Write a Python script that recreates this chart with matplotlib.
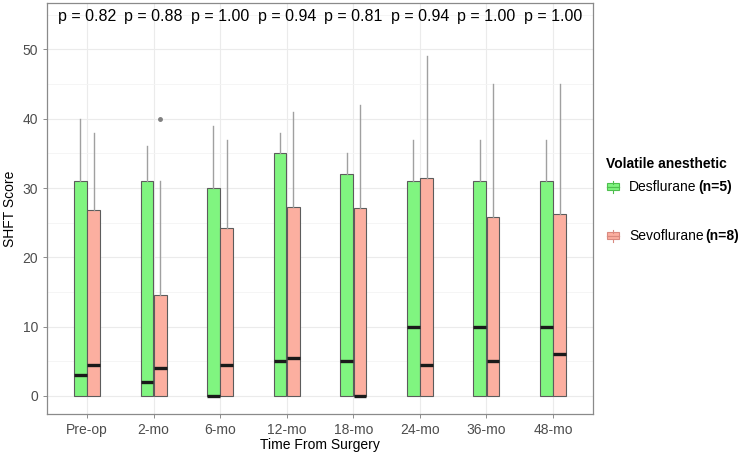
import numpy as np
import matplotlib.pyplot as plt
from matplotlib.patches import Rectangle
from matplotlib.lines import Line2D

plt.rcParams['font.family'] = ['Liberation Sans', 'DejaVu Sans']

categories = ['Pre-op', '2-mo', '6-mo', '12-mo', '18-mo', '24-mo', '36-mo', '48-mo']
p_values = ['0.82', '0.88', '1.00', '0.94', '0.81', '0.94', '1.00', '1.00']

# Desflurane (n=5)
des_q1 = [0, 0, 0, 0, 0, 0, 0, 0]
des_med = [3, 2, 0, 5, 5, 10, 10, 10]
des_q3 = [31, 31, 30, 35, 32, 31, 31, 31]
des_max = [40, 36, 39, 38, 35, 37, 37, 37]
des_out = [[], [], [], [], [], [], [], []]

# Sevoflurane (n=8)
sevo_q1 = [0, 0, 0, 0, 0, 0, 0, 0]
sevo_med = [4.5, 4, 4.5, 5.5, 0, 4.5, 5, 6]
sevo_q3 = [26.8, 14.5, 24.2, 27.3, 27.1, 31.5, 25.8, 26.2]
sevo_max = [38, 31, 37, 41, 42, 49, 45, 45]
sevo_out = [[], [40], [], [], [], [], [], []]

green = '#80F580'
salmon = '#FCAFA0'
edge = '#5c5c5c'
whisk = '#a0a0a0'

fig = plt.figure(figsize=(7.5, 4.61), dpi=100)
ax = fig.add_axes([47 / 750, 1 - 414 / 461, 546 / 750, 411 / 461])


def make_stats(q1, med, q3, hi, out):
    return [dict(q1=a, med=b, q3=c, whislo=a, whishi=d, fliers=e)
            for a, b, c, d, e in zip(q1, med, q3, hi, out)]


x = np.arange(1, len(categories) + 1)
for stats, offs, col in [(make_stats(des_q1, des_med, des_q3, des_max, des_out), -0.1, green),
                         (make_stats(sevo_q1, sevo_med, sevo_q3, sevo_max, sevo_out), 0.1, salmon)]:
    ax.bxp(stats, positions=x + offs, widths=0.19, patch_artist=True, showcaps=False,
           boxprops=dict(facecolor=col, edgecolor=edge, linewidth=0.8),
           medianprops=dict(color='#1a1a1a', linewidth=2.4, solid_capstyle='butt'),
           whiskerprops=dict(color=whisk, linewidth=1.0),
           flierprops=dict(marker='o', markersize=2.5, markerfacecolor='#808080',
                           markeredgecolor='#808080'),
           manage_ticks=False, zorder=3)

for xi, p in zip(x, p_values):
    ax.text(xi, 54.8, f'p = {p}', ha='center', va='center', fontsize=11.5, color='black')

ax.set_xlim(0.4, 8.6)
ax.set_ylim(-2.6, 56.7)
ax.set_xticks(x)
ax.set_xticklabels(categories)
ax.set_yticks(np.arange(0, 51, 10))
ax.set_yticks(np.arange(5, 56, 10), minor=True)
ax.tick_params(axis='both', which='major', labelsize=10, labelcolor='#4d4d4d',
               color='#7a7a7a', length=3, width=0.6)
ax.tick_params(axis='y', which='minor', length=0)
ax.grid(True, which='major', color='#ebebeb', linewidth=0.8)
ax.grid(True, which='minor', axis='y', color='#f4f4f4', linewidth=0.6)
ax.set_axisbelow(True)
for s in ax.spines.values():
    s.set_color('#8a8a8a')
    s.set_linewidth(0.9)

ax.set_xlabel('Time From Surgery', fontsize=10, color='black', labelpad=1)
ax.set_ylabel('SHFT Score', fontsize=10, color='black', labelpad=4)

# legend drawn by hand so the (n=...) part can be bold
W, H = 750, 461
fig.text(606 / W, 1 - 164 / H, 'Volatile anesthetic', fontsize=10, fontweight='bold',
         ha='left', va='center')
for yk, col, kedge, name, n in [(187, green, '#4fbf4f', 'Desflurane', '(n=5)'),
                                (236, salmon, '#d98a80', 'Sevoflurane', '(n=8)')]:
    fig.patches.append(Rectangle((607 / W, 1 - (yk + 3.5) / H), 12 / W, 7 / H,
                                 transform=fig.transFigure, facecolor=col,
                                 edgecolor=kedge, linewidth=0.8))
    fig.lines.append(Line2D([607 / W, 619 / W], [1 - yk / H, 1 - yk / H],
                            transform=fig.transFigure, color=kedge, linewidth=0.9))
    for y0, y1 in [(yk - 3.5, yk - 6), (yk + 3.5, yk + 6)]:
        fig.lines.append(Line2D([613 / W, 613 / W], [1 - y0 / H, 1 - y1 / H],
                                transform=fig.transFigure, color=kedge, linewidth=0.8))
    t = fig.text(629 / W, 1 - yk / H, name, fontsize=10, ha='left', va='center')
    fig.canvas.draw()
    bb = t.get_window_extent()
    fig.text((bb.x1 + 2) / W, 1 - yk / H, n, fontsize=10, fontweight='bold',
             ha='left', va='center')

fig.savefig('out.png', dpi=100)
